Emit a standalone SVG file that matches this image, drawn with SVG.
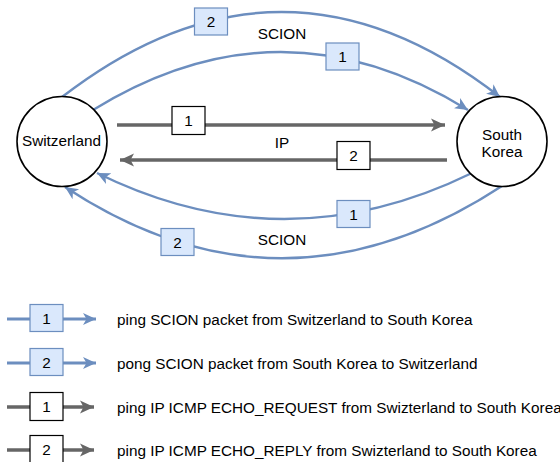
<svg xmlns="http://www.w3.org/2000/svg" width="560" height="462" viewBox="0 0 560 462">
<style>
text{font-family:"Liberation Sans",Arial,Helvetica,sans-serif;font-size:15.3px;fill:#000;text-anchor:middle}
.lt{text-anchor:start}
.blue{fill:none;stroke:#6c8ebf;stroke-width:2.4}
.gray{fill:none;stroke:#666666;stroke-width:3.3}
.bbox{fill:#dae8fc;stroke:#6c8ebf;stroke-width:1.2}
.wbox{fill:#ffffff;stroke:#000000;stroke-width:1.2}
.node{fill:#ffffff;stroke:#000000;stroke-width:1.6}
</style>
<defs>
<marker id="ab" markerUnits="userSpaceOnUse" markerWidth="14" markerHeight="14" viewBox="0 0 14 14" refX="13" refY="7" orient="auto">
<path d="M0,1 L13,7 L0,13 L3.5,7 z" fill="#6c8ebf"/>
</marker>
<marker id="ag" markerUnits="userSpaceOnUse" markerWidth="15" markerHeight="15" viewBox="0 0 15 15" refX="14" refY="7.5" orient="auto">
<path d="M0,1 L14,7.5 L0,14 L3.5,7.5 z" fill="#666666"/>
</marker>
</defs>

<g id="connectors">
<path class="blue" d="M62,97 Q282,-73 500,97" marker-end="url(#ab)"/>
<path class="blue" d="M93,110 Q281,-6 468,110" marker-end="url(#ab)"/>
<path class="gray" d="M117,125 L445,125" marker-end="url(#ag)"/>
<path class="gray" d="M447,160 L120,160" marker-end="url(#ag)"/>
<path class="blue" d="M472,173 Q284,265 97,173" marker-end="url(#ab)"/>
<path class="blue" d="M502,186 Q282,330 65,187" marker-end="url(#ab)"/>
</g>

<g id="labels">
<rect class="bbox" x="194.5" y="8" width="33" height="27"/>
<text x="211" y="26.5">2</text>
<text x="282" y="39">SCION</text>
<rect class="bbox" x="326" y="43" width="33" height="27"/>
<text x="342.5" y="62">1</text>
<rect class="wbox" x="172" y="106.5" width="33" height="28"/>
<text x="188.5" y="126">1</text>
<text x="282" y="148">IP</text>
<rect class="wbox" x="337" y="141.5" width="33" height="28"/>
<text x="353.5" y="161">2</text>
<rect class="bbox" x="337" y="200.5" width="33" height="27"/>
<text x="353.5" y="219.5">1</text>
<text x="282" y="245">SCION</text>
<rect class="bbox" x="161" y="228.5" width="33" height="27"/>
<text x="177.5" y="247.5">2</text>
</g>

<g id="switzerland">
<circle class="node" cx="62" cy="141.5" r="45"/>
<text x="61.5" y="146">Switzerland</text>
</g>

<g id="south-korea">
<circle class="node" cx="502" cy="141.5" r="45"/>
<text x="502" y="140">South</text>
<text x="502" y="157">Korea</text>
</g>

<g id="legend">
<path class="blue" style="stroke-width:3" d="M7,319 L96,319" marker-end="url(#ab)"/>
<rect class="bbox" x="30" y="304.5" width="33" height="27"/>
<text x="46.5" y="323.5">1</text>
<text class="lt" x="117" y="324.5">ping SCION packet from Switzerland to South Korea</text>

<path class="blue" style="stroke-width:3" d="M7,363 L96,363" marker-end="url(#ab)"/>
<rect class="bbox" x="30" y="348.5" width="33" height="27"/>
<text x="46.5" y="367.5">2</text>
<text class="lt" x="117" y="368.5">pong SCION packet from South Korea to Switzerland</text>

<path class="gray" d="M7,407 L94,407" marker-end="url(#ag)"/>
<rect class="wbox" x="30" y="392.5" width="33" height="28"/>
<text x="46.5" y="412">1</text>
<text class="lt" x="117" y="412.5">ping IP ICMP ECHO_REQUEST from Swizterland to South Korea</text>

<path class="gray" d="M7,450 L94,450" marker-end="url(#ag)"/>
<rect class="wbox" x="30" y="435.5" width="33" height="28"/>
<text x="46.5" y="455">2</text>
<text class="lt" x="117" y="456">ping IP ICMP ECHO_REPLY from Swizterland to South Korea</text>
</g>
</svg>
